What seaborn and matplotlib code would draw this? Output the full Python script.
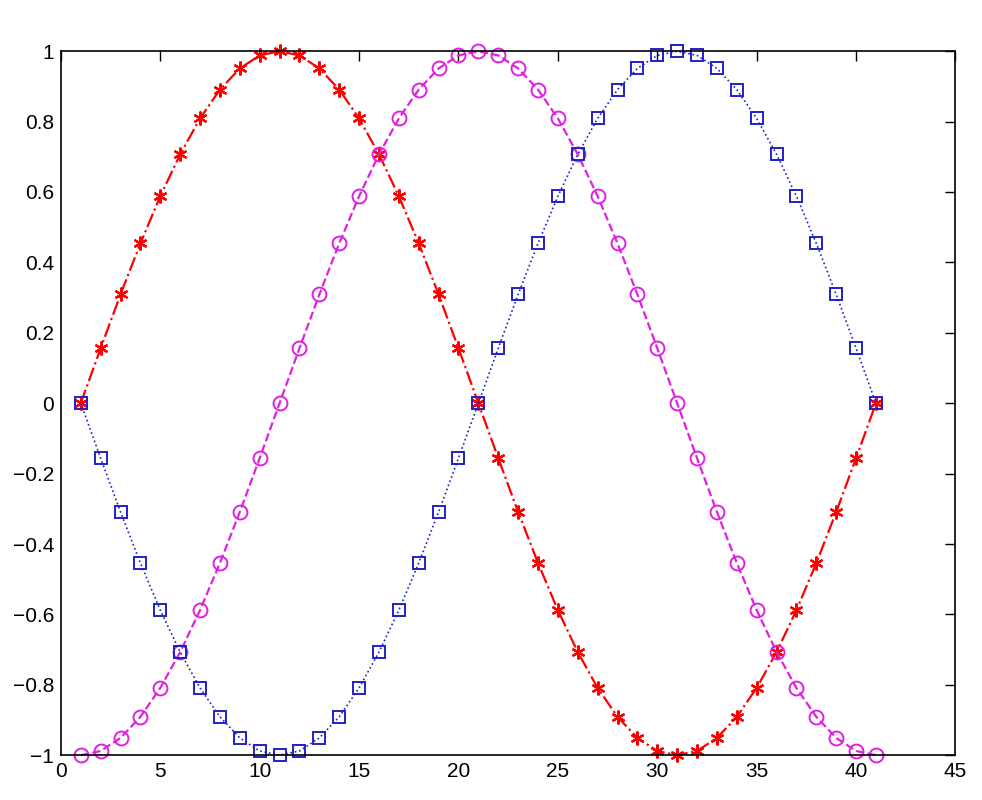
import numpy as np
import pandas as pd
import seaborn as sns
import matplotlib
matplotlib.use('Agg')
import matplotlib.pyplot as plt

# %%
# values, x = 1..41
x = list(range(1, 42))
red = [0, 0.156, 0.309, 0.454, 0.588, 0.707, 0.809, 0.891, 0.951, 0.988,
       1, 0.988, 0.951, 0.891, 0.809, 0.707, 0.588, 0.454, 0.309, 0.156,
       0, -0.156, -0.309, -0.454, -0.588, -0.707, -0.809, -0.891, -0.951, -0.988,
       -1, -0.988, -0.951, -0.891, -0.809, -0.707, -0.588, -0.454, -0.309, -0.156,
       0]
magenta = [-1, -0.988, -0.951, -0.891, -0.809, -0.707, -0.588, -0.454, -0.309, -0.156,
           0, 0.156, 0.309, 0.454, 0.588, 0.707, 0.809, 0.891, 0.951, 0.988,
           1, 0.988, 0.951, 0.891, 0.809, 0.707, 0.588, 0.454, 0.309, 0.156,
           0, -0.156, -0.309, -0.454, -0.588, -0.707, -0.809, -0.891, -0.951, -0.988,
           -1]
blue = [0, -0.156, -0.309, -0.454, -0.588, -0.707, -0.809, -0.891, -0.951, -0.988,
        -1, -0.988, -0.951, -0.891, -0.809, -0.707, -0.588, -0.454, -0.309, -0.156,
        0, 0.156, 0.309, 0.454, 0.588, 0.707, 0.809, 0.891, 0.951, 0.988,
        1, 0.988, 0.951, 0.891, 0.809, 0.707, 0.588, 0.454, 0.309, 0.156,
        0]
xticks = [0, 5, 10, 15, 20, 25, 30, 35, 40, 45]
yticks = [-1, -0.8, -0.6, -0.4, -0.2, 0, 0.2, 0.4, 0.6, 0.8, 1]
ytick_labels = ['\u22121', '\u22120.8', '\u22120.6', '\u22120.4', '\u22120.2', '0',
                '0.2', '0.4', '0.6', '0.8', '1']

df = pd.DataFrame({'x': x, 'red': red, 'magenta': magenta, 'blue': blue})

# %%
sns.set_style('white')
plt.rcParams['font.family'] = ['Liberation Sans', 'DejaVu Sans']

fig = plt.figure(figsize=(9.82, 8), dpi=100)
ax = fig.add_axes([0.062, 0.056, 0.911, 0.88])

sns.lineplot(data=df, x='x', y='red', ax=ax, color='#ff0000', linestyle='-.',
             linewidth=1.6, marker=(6, 2, 0), markersize=10, markeredgecolor='#ff0000',
             markeredgewidth=1.6, clip_on=False)
sns.lineplot(data=df, x='x', y='magenta', ax=ax, color='#e020e0', linestyle='--',
             linewidth=1.6, dashes=(6, 4), marker='o', markersize=10,
             markeredgecolor='#e020e0', markerfacecolor='none', markeredgewidth=1.4,
             clip_on=False)
sns.lineplot(data=df, x='x', y='blue', ax=ax, color='#2020c8', linestyle=':',
             linewidth=1.2, marker='s', markersize=8, markeredgecolor='#2020c8',
             markerfacecolor='none', markeredgewidth=1.4, clip_on=False)

ax.set_xlim(0, 45)
ax.set_ylim(-1, 1)
ax.set_xticks(xticks)
ax.set_yticks(yticks)
ax.set_yticklabels(ytick_labels)
ax.set_xlabel('')
ax.set_ylabel('')
ax.tick_params(direction='in', top=True, right=True, length=7, width=1,
               labelsize=15, colors='black', pad=5)
for s in ax.spines.values():
    s.set_color('black')
    s.set_linewidth(1.2)

plt.savefig('out.png', dpi=100)
